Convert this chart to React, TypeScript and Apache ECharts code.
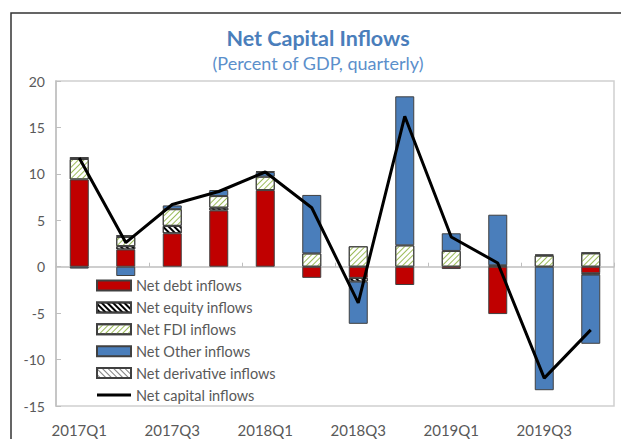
import React, { useEffect, useRef } from "react";
import * as echarts from "echarts";

const categories = ["2017Q1","2017Q2","2017Q3","2017Q4","2018Q1","2018Q2","2018Q3","2018Q4","2019Q1","2019Q2","2019Q3","2019Q4"];
const debtInflows = [9.4, 1.86, 3.6, 6.06, 8.25, -1.2, -1.2, -1.97, -0.25, -5.1, null, -0.7];
const equityInflows = [null, 0.35, 0.8, 0.3, null, null, -0.4, null, null, null, null, -0.15];
const fdiInflows = [2.2, 1.0, 1.8, 1.25, 1.45, 1.43, 2.2, 2.3, 1.7, 0.15, 1.2, 1.45];
const otherInflows = [-0.2, -1.0, 0.4, 0.65, 0.5, 6.3, -4.55, 16.05, 1.9, 5.45, -13.3, -7.45];
const derivativeInflows = [0.2, 0.2, null, null, 0.1, null, null, null, null, null, 0.1, 0.05];
const netCapitalInflows = [11.7, 2.6, 6.7, 8.1, 10.2, 6.35, -3.9, 16.2, 3.2, 0.4, -12.0, -6.8];
const yTicks = { min: -15, max: 20, interval: 5 };

const FONT = "Lato";
const border = { borderColor: "#404040", borderWidth: 1 };

export default function App() {
  const ref = useRef<HTMLDivElement>(null);
  useEffect(() => {
    if (!ref.current) return;
    const chart = echarts.init(ref.current, undefined, { renderer: "svg" });
    const barBase = { type: "bar", stack: "total", barWidth: 19, xAxisIndex: 0 };
    chart.setOption({
      animation: false,
      backgroundColor: "#ffffff",
      textStyle: { fontFamily: FONT },
      graphic: [
        { type: "rect", shape: { x: 11, y: 13, width: 700, height: 500 }, style: { fill: "none", stroke: "#333", lineWidth: 1.5 }, silent: true },
        { type: "text", x: 318, y: 38, style: { text: "Net Capital Inflows", font: `bold 21.5px ${FONT}`, fill: "#4A7EBB", textAlign: "center", textVerticalAlign: "middle" } },
        { type: "text", x: 318, y: 63, style: { text: "(Percent of GDP, quarterly)", font: `18px ${FONT}`, fill: "#5B8FCB", textAlign: "center", textVerticalAlign: "middle" } },
      ],
      grid: { left: 56, right: 7, top: 81, bottom: 33, show: true, borderColor: "#D0D0D0", borderWidth: 1.5, containLabel: false },
      legend: {
        orient: "vertical", left: 91, top: 273, itemWidth: 34, itemHeight: 10, itemGap: 6.9, icon: "rect",
        textStyle: { fontFamily: FONT, fontSize: 14.5, color: "#595959" },
        data: [
          "Net debt inflows", "Net equity inflows", "Net FDI inflows", "Net Other inflows", "Net derivative inflows",
          { name: "Net capital inflows", icon: "path://M0,0 L34,0 L34,3 L0,3 Z" },
        ],
      },
      xAxis: [
        {
          type: "category", data: categories, position: "bottom",
          axisLine: { onZero: true, lineStyle: { color: "#BFBFBF", width: 1.5 } },
          axisTick: { show: true, inside: true, length: 4, lineStyle: { color: "#BFBFBF" } },
          axisLabel: { show: false },
        },
        {
          type: "category", data: categories, position: "bottom",
          axisLine: { show: false, onZero: false }, axisTick: { show: false },
          axisLabel: { interval: 1, color: "#595959", fontSize: 15, fontFamily: FONT, margin: 16 },
        },
      ],
      yAxis: {
        type: "value", min: yTicks.min, max: yTicks.max, interval: yTicks.interval,
        splitLine: { show: false },
        axisLine: { show: true, lineStyle: { color: "#BFBFBF", width: 1.5 } },
        axisTick: { show: true, inside: true, length: 5, lineStyle: { color: "#BFBFBF" } },
        axisLabel: { color: "#595959", fontSize: 14, fontFamily: FONT, margin: 11 },
      },
      series: [
        { ...barBase, name: "Net debt inflows", data: debtInflows, itemStyle: { color: "#C00000", ...border } },
        { ...barBase, name: "Net equity inflows", data: equityInflows, itemStyle: { color: "#ffffff", ...border, decal: { symbol: "rect", dashArrayX: [1, 0], dashArrayY: [2, 2], rotation: Math.PI / 4, color: "#000000" } } },
        { ...barBase, name: "Net FDI inflows", data: fdiInflows, itemStyle: { color: "#ffffff", ...border, decal: { symbol: "rect", dashArrayX: [1, 0], dashArrayY: [1, 3], rotation: -Math.PI / 4, color: "#9BBB59" } } },
        { ...barBase, name: "Net Other inflows", data: otherInflows, itemStyle: { color: "#4A7EBB", ...border } },
        { ...barBase, name: "Net derivative inflows", data: derivativeInflows, itemStyle: { color: "#ffffff", ...border, decal: { symbol: "rect", dashArrayX: [1, 0], dashArrayY: [1, 3], rotation: Math.PI / 4, color: "#808080" } } },
        { type: "line", name: "Net capital inflows", data: netCapitalInflows, symbol: "none", xAxisIndex: 0, lineStyle: { color: "#000000", width: 3 }, itemStyle: { color: "#000000" }, z: 5 },
      ],
    });
    return () => chart.dispose();
  }, []);
  return <div ref={ref} style={{ position: "fixed", left: 0, top: 0, width: 621, height: 439 }} />;
}
